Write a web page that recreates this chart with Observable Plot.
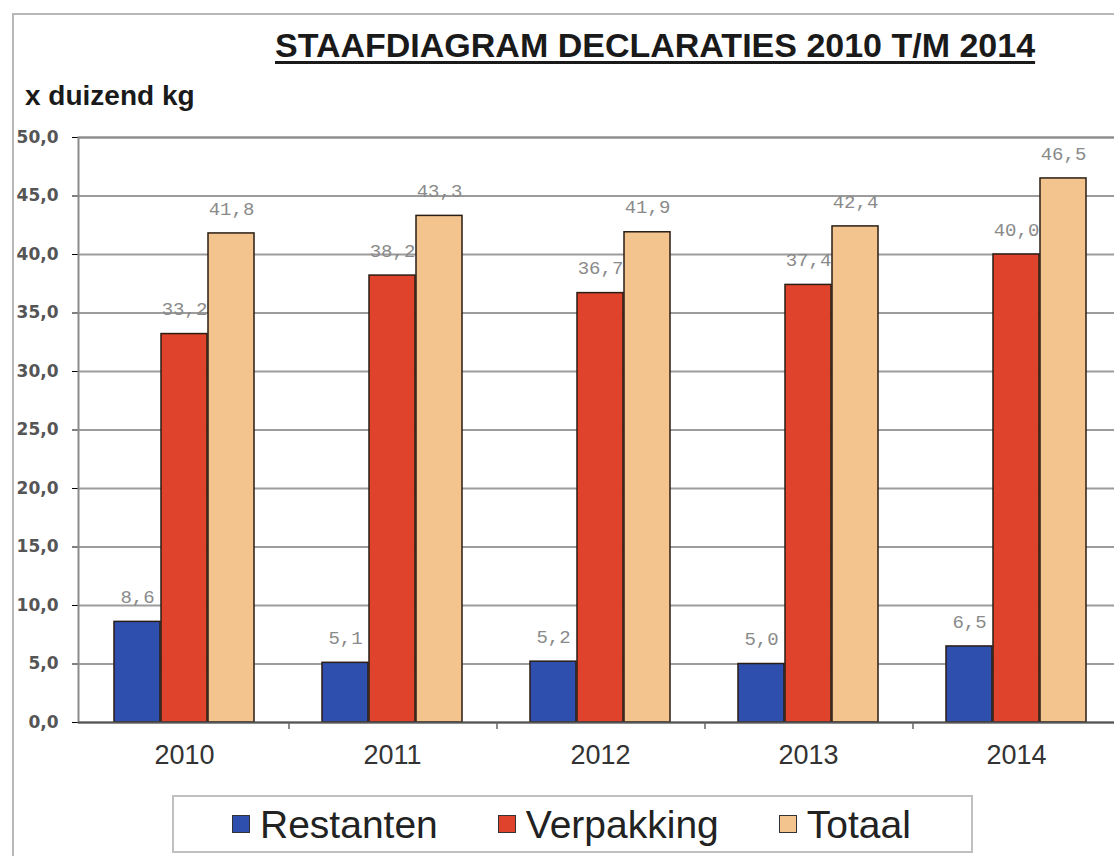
<!DOCTYPE html>
<html><head><meta charset="utf-8">
<script src="https://cdn.jsdelivr.net/npm/d3@7"></script>
<script src="https://cdn.jsdelivr.net/npm/@observablehq/plot@0.6"></script>
<style>
html,body{margin:0;padding:0;width:1114px;height:856px;overflow:hidden;background:#fff;font-family:"Liberation Sans",Arial,sans-serif;}
#frame{position:absolute;left:12px;top:13px;width:1200px;height:900px;border:2px solid #b8b8b8;box-sizing:border-box;}
#title{position:absolute;left:275px;top:28px;font-size:34px;font-weight:bold;line-height:34px;color:#1a1a1a;text-decoration:underline;text-decoration-thickness:3px;text-underline-offset:4px;white-space:nowrap;}
#unit{position:absolute;left:25px;top:82px;font-size:28px;font-weight:bold;line-height:28px;color:#1a1a1a;white-space:nowrap;}
#chart{position:absolute;left:0;top:100px;width:1123px;height:680px;}
#chart svg{overflow:visible;max-width:none !important;}
#chart g[aria-label^="x-axis"] text{font-family:"Liberation Sans",Arial,sans-serif;font-size:27px;fill:#333;}
#chart g[aria-label^="y-axis"] text{font-family:"DejaVu Sans",sans-serif;font-weight:bold;font-size:17px;fill:#555;}
#legend{position:absolute;left:172px;top:795px;width:801px;height:58px;border:2px solid #c0c0c0;box-sizing:border-box;display:flex;align-items:center;padding-left:58px;background:#fff;}
.item{display:flex;align-items:center;margin-right:60px;font-size:39px;color:#222;line-height:39px;}
.sw{width:18px;height:18px;border:1.5px solid #333;box-sizing:border-box;margin-right:10px;}
</style>
</head><body>
<div id="frame"></div>
<div id="title">STAAFDIAGRAM DECLARATIES 2010 T/M 2014</div>
<div id="unit">x duizend kg</div>
<div id="chart"></div>
<div id="legend"></div>
<script>
const years = ["2010","2011","2012","2013","2014"];
const restanten = [8.6, 5.1, 5.2, 5.0, 6.5];
const verpakking = [33.2, 38.2, 36.7, 37.4, 40.0];
const totaal = [41.8, 43.3, 41.9, 42.4, 46.5];
const seriesNames = ["Restanten", "Verpakking", "Totaal"];
const seriesColors = ["#2e4fae", "#e0432b", "#f4c48e"];
const yTicks = [0, 5, 10, 15, 20, 25, 30, 35, 40, 45, 50];

const seriesValues = [restanten, verpakking, totaal];
const rows = seriesNames.map((name, k) => years.map((year, i) => ({year, series: name, value: seriesValues[k][i]})));
const fmt = v => v.toFixed(1).replace(".", ",");
const barW = 47;

const marks = [
  Plot.ruleY(yTicks.filter(d => d > 0), {stroke: "#9c9c9c", strokeWidth: 2}),
  Plot.frame({stroke: "#8c8c8c", strokeWidth: 2})
];
rows.forEach((data, k) => {
  marks.push(Plot.barY(data, {
    x: "year", y: "value", fill: seriesColors[k], stroke: "#2a1d14", strokeWidth: 1.5,
    insetLeft: barW * k, insetRight: barW * (2 - k)
  }));
});
rows.forEach((data, k) => {
  marks.push(Plot.text(data, {
    x: "year", y: "value", text: d => fmt(d.value), dx: barW * (k - 1), dy: -25,
    fontFamily: "Liberation Mono, monospace", fontSize: 19, fill: "#8a8a8a"
  }));
});
marks.push(Plot.ruleY([0], {stroke: "#555", strokeWidth: 2}));
marks.push(Plot.ruleX(years.slice(0, -1), {x: d => d, y1: 0, y2: -0.6, dx: 104.5, stroke: "#666", strokeWidth: 1.5, clip: false}));

const chart = Plot.plot({
  width: 1123, height: 680,
  marginLeft: 78, marginRight: 0, marginTop: 37, marginBottom: 58,
  style: {background: "transparent", overflow: "visible", maxWidth: "none"},
  x: {type: "band", domain: years, paddingInner: 0.325, paddingOuter: 0.163, tickSize: 0, tickPadding: 22, label: null},
  y: {domain: [0, 50], ticks: yTicks, tickFormat: fmt, tickSize: 6, tickPadding: 14, label: null},
  marks
});
document.getElementById("chart").appendChild(chart);

const legend = document.getElementById("legend");
seriesNames.forEach((name, k) => {
  const item = document.createElement("div");
  item.className = "item";
  const sw = document.createElement("div");
  sw.className = "sw";
  sw.style.background = seriesColors[k];
  const t = document.createElement("span");
  t.textContent = name;
  item.appendChild(sw); item.appendChild(t);
  legend.appendChild(item);
});
</script>
</body></html>
